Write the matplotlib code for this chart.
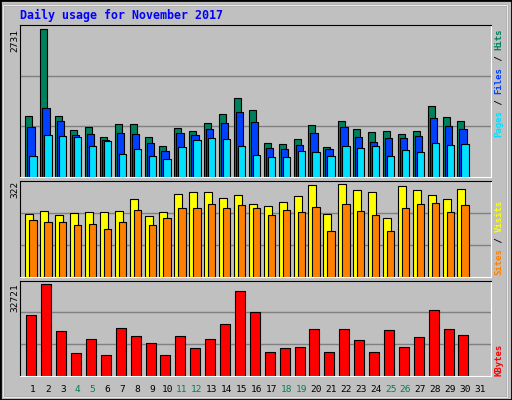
import matplotlib
matplotlib.use("Agg")
import matplotlib.pyplot as plt
from matplotlib.patches import Rectangle
import numpy as np

days = list(range(1, 32))
hits = [1137,2731,1137,877,933,748,989,989,748,581,915,859,1007,1174,1452,1230,636,618,711,970,562,1044,896,840,859,803,859,1304,1118,1044]
files = [933,1285,1044,785,803,692,822,803,636,488,822,785,896,1007,1211,1026,544,525,599,822,525,933,748,655,729,729,766,1100,952,896]
pages = [395,785,766,748,581,674,433,525,395,340,562,692,729,711,581,414,377,377,488,470,395,581,544,581,395,507,470,636,599,618]
visits = [217,227,213,220,224,224,227,269,210,224,287,294,294,273,283,252,245,259,280,319,217,322,301,294,203,315,301,283,269,304]
sites = [196,189,189,178,182,167,189,231,178,203,238,238,252,238,248,238,213,231,224,241,160,252,227,213,160,238,252,255,224,248]
kbytes = [21540,32721,15827,8330,12971,7616,16898,14042,11543,7616,14042,10115,12971,18326,30107,22610,8687,10115,10472,16541,8687,16541,12614,8687,16184,10472,13685,23324,16541,14399]
weekend = [4,5,11,12,18,19,25,26]

W, H = 512, 400
fig = plt.figure(figsize=(W/100, H/100), dpi=100)
fig.patch.set_facecolor('#C0C0C0')
fig.patches.append(Rectangle((0, 0), 1, 1, transform=fig.transFigure, fill=False, edgecolor='black', lw=2))
fig.patches.append(Rectangle((3/W, 3/H), 1-8/W, 1-8/H, transform=fig.transFigure, fill=False, edgecolor='#808080', lw=1))
fig.patches.append(Rectangle((3/W, 3/H), 1-8/W, 1-8/H, transform=fig.transFigure, fill=False, edgecolor='white', lw=0.6))

mono = 'DejaVu Sans Mono'
L, R = 20, 491
slot = 14.9
x0 = 33  # pixel centre of day 1
xlim = (1 + (L - x0)/slot, 1 + (R - x0)/slot)

def mkax(top, bottom):
    ax = fig.add_axes([L/W, 1-bottom/H, (R-L)/W, (bottom-top)/H])
    ax.set_facecolor('#C0C0C0')
    ax.set_xlim(*xlim)
    ax.set_xticks([]); ax.set_yticks([])
    for s in ['left', 'top']:
        ax.spines[s].set_color('black')
    for s in ['right', 'bottom']:
        ax.spines[s].set_color('white')
    return ax

d = np.arange(1, 31)
px = 1/slot

ax1 = mkax(25, 177)
ymax1 = 2731*455/442
ax1.set_ylim(0, ymax1)
for f in (1/3, 2/3):
    ax1.axhline(ymax1*f, color='#808080', lw=1, zorder=0)
ax1.bar(d - 7.7*px, hits, width=7*px, align='edge', color='#00805C', edgecolor='black', lw=0.8)
ax1.bar(d - 5.7*px, files, width=7.3*px, align='edge', color='#0040FF', edgecolor='black', lw=0.8)
ax1.bar(d - 3.7*px, pages, width=7.3*px, align='edge', color='#00E0FF', edgecolor='black', lw=0.8)

ax2 = mkax(180.5, 276.5)
ymax2 = 322*286/275
ax2.set_ylim(0, ymax2)
for f in (1/3, 2/3):
    ax2.axhline(ymax2*f, color='#808080', lw=1, zorder=0)
ax2.bar(d - 7.7*px, visits, width=8*px, align='edge', color='#FFFF00', edgecolor='black', lw=0.8)
ax2.bar(d - 3.7*px, sites, width=7.3*px, align='edge', color='#FF8000', edgecolor='black', lw=0.8)

ax3 = mkax(280.5, 376)
ymax3 = 32721*285/275
ax3.set_ylim(0, ymax3)
for f in (1/3, 2/3):
    ax3.axhline(ymax3*f, color='#808080', lw=1, zorder=0)
ax3.bar(d - 6.7*px, kbytes, width=10*px, align='edge', color='#FF0000', edgecolor='black', lw=0.8)

for day in days:
    xp = x0 + (day-1)*slot
    fig.text(xp/W, 1-389/H, str(day), ha='center', va='center', family=mono, fontsize=6.8,
             color='#00805C' if day in weekend else 'black')

fig.text(20/W, 1-15/H, 'Daily usage for November 2017', ha='left', va='center', family=mono,
         fontsize=8.4, fontweight='bold', color='#0000FF')

for txt, top in [('2731', 29), ('322', 181), ('32721', 283)]:
    fig.text(15/W, 1-top/H, txt, rotation=90, ha='center', va='top', family=mono, fontsize=6.8, color='black')

cw = 5.43
def stack(bottom, parts):
    n = 0
    for s, c in parts:
        fig.text(499/W, 1-(bottom - n*cw)/H, s, rotation=90, rotation_mode='anchor',
                 ha='left', va='center', family=mono, fontsize=6.5, fontweight='bold', color=c)
        n += len(s)

stack(137, [('Pages', '#00E0FF'), (' / ', '#000000'), ('Files', '#0040FF'), (' / ', '#000000'), ('Hits', '#00805C')])
stack(275, [('Sites', '#FF8000'), (' / ', '#000000'), ('Visits', '#FFFF00')])
stack(376, [('KBytes', '#FF0000')])

fig.savefig('out.png', dpi=100, facecolor=fig.get_facecolor())
